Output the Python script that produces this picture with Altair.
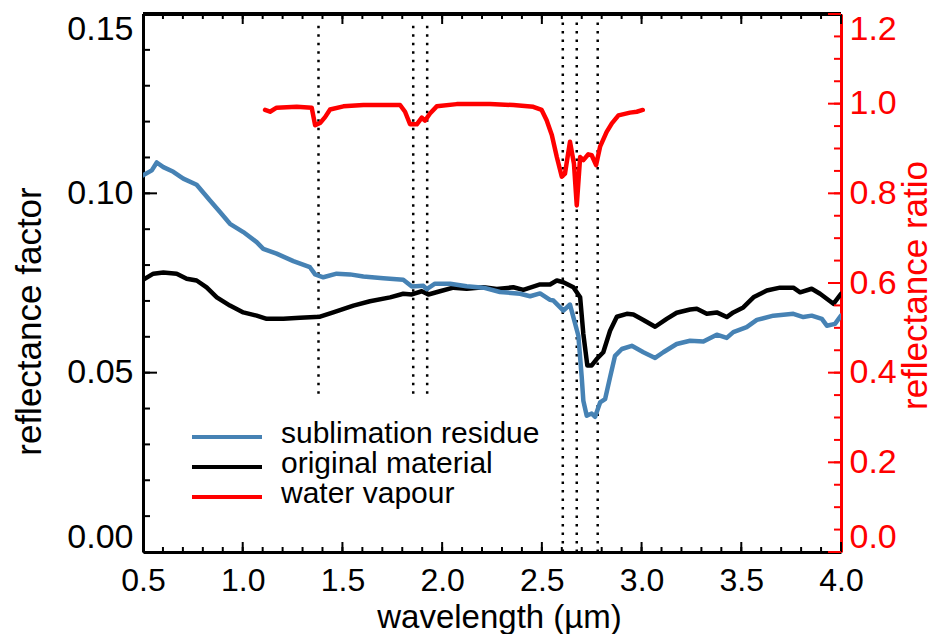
import altair as alt
import pandas as pd

# ---------------- data ----------------
# sublimation residue (left axis, reflectance factor)
res_wl = [0.500, 0.544, 0.569, 0.602, 0.652, 0.702, 0.769, 0.836, 0.886, 0.936,
          1.003, 1.070, 1.103, 1.170, 1.254, 1.337, 1.363, 1.404, 1.471, 1.538,
          1.605, 1.705, 1.805, 1.848, 1.906, 1.923, 1.964, 2.040, 2.123, 2.207,
          2.290, 2.391, 2.441, 2.491, 2.541, 2.558, 2.608, 2.641, 2.658, 2.683,
          2.700, 2.708, 2.725, 2.750, 2.767, 2.792, 2.817, 2.842, 2.867, 2.901,
          2.951, 3.009, 3.068, 3.109, 3.176, 3.243, 3.310, 3.377, 3.427, 3.460,
          3.527, 3.578, 3.661, 3.761, 3.811, 3.853, 3.904, 3.929, 3.970, 4.000]
res_rf = [0.1050, 0.1064, 0.1086, 0.1073, 0.1060, 0.1041, 0.1024, 0.0980, 0.0948, 0.0915,
          0.0892, 0.0864, 0.0845, 0.0832, 0.0811, 0.0794, 0.0774, 0.0766, 0.0776, 0.0774,
          0.0768, 0.0763, 0.0759, 0.0740, 0.0742, 0.0733, 0.0748, 0.0748, 0.0741, 0.0737,
          0.0725, 0.0720, 0.0713, 0.0721, 0.0703, 0.0701, 0.0673, 0.0690, 0.0655, 0.0603,
          0.0487, 0.0422, 0.0380, 0.0386, 0.0377, 0.0417, 0.0426, 0.0487, 0.0547, 0.0566,
          0.0575, 0.0557, 0.0541, 0.0557, 0.0580, 0.0589, 0.0587, 0.0606, 0.0597, 0.0613,
          0.0627, 0.0647, 0.0659, 0.0664, 0.0655, 0.0659, 0.0650, 0.0631, 0.0636, 0.0659]

# original material (left axis)
orig_wl = [0.500, 0.552, 0.602, 0.669, 0.719, 0.769, 0.819, 0.870, 0.936, 1.003,
           1.070, 1.120, 1.204, 1.287, 1.388, 1.454, 1.555, 1.638, 1.739, 1.805,
           1.848, 1.898, 1.931, 1.989, 2.056, 2.123, 2.207, 2.274, 2.357, 2.407,
           2.491, 2.541, 2.575, 2.608, 2.658, 2.692, 2.708, 2.728, 2.750, 2.775,
           2.808, 2.842, 2.876, 2.926, 2.959, 3.009, 3.068, 3.126, 3.176, 3.243,
           3.277, 3.327, 3.377, 3.427, 3.460, 3.510, 3.561, 3.628, 3.694, 3.761,
           3.795, 3.853, 3.895, 3.962, 4.000]
orig_rf = [0.0759, 0.0776, 0.0779, 0.0776, 0.0762, 0.0757, 0.0738, 0.0710, 0.0687, 0.0668,
           0.0659, 0.0650, 0.0650, 0.0653, 0.0656, 0.0668, 0.0687, 0.0699, 0.0710, 0.0720,
           0.0718, 0.0727, 0.0718, 0.0727, 0.0737, 0.0734, 0.0738, 0.0733, 0.0738, 0.0731,
           0.0746, 0.0746, 0.0757, 0.0752, 0.0738, 0.0710, 0.0608, 0.0520, 0.0520, 0.0538,
           0.0557, 0.0617, 0.0656, 0.0664, 0.0662, 0.0647, 0.0628, 0.0650, 0.0667, 0.0676,
           0.0678, 0.0664, 0.0668, 0.0655, 0.0668, 0.0682, 0.0710, 0.0729, 0.0737, 0.0737,
           0.0724, 0.0734, 0.0720, 0.0692, 0.0720]

# water vapour (right axis, reflectance ratio)
vap_wl = [1.112, 1.137, 1.170, 1.271, 1.346, 1.363, 1.388, 1.413, 1.438, 1.505,
          1.605, 1.789, 1.814, 1.839, 1.873, 1.898, 1.914, 1.939, 1.973, 2.073,
          2.240, 2.357, 2.457, 2.499, 2.524, 2.550, 2.575, 2.600, 2.616, 2.641,
          2.661, 2.675, 2.692, 2.708, 2.733, 2.750, 2.772, 2.792, 2.825, 2.851,
          2.884, 2.942, 2.976, 3.006]
vap_ratio = [0.986, 0.982, 0.991, 0.993, 0.991, 0.952, 0.957, 0.970, 0.987, 0.994,
             0.997, 0.997, 0.982, 0.954, 0.954, 0.969, 0.962, 0.978, 0.994, 0.999,
             0.999, 0.997, 0.993, 0.986, 0.963, 0.930, 0.881, 0.837, 0.844, 0.915,
             0.866, 0.773, 0.881, 0.874, 0.887, 0.885, 0.863, 0.904, 0.937, 0.956,
             0.974, 0.980, 0.982, 0.986]

# dotted band markers
band_wl = [1.38, 1.855, 1.925, 2.605, 2.675, 2.78]
band_lo = [0.0441, 0.0441, 0.0441, 0.0, 0.0, 0.0]
band_hi = [0.1483, 0.1483, 0.1483, 0.1483, 0.1483, 0.1483]

legend_labels = ["sublimation residue", "original material", "water vapour"]
legend_colors = ["#4682b4", "#000000", "#ff0000"]

# tick values
x_major = [0.5, 1.0, 1.5, 2.0, 2.5, 3.0, 3.5, 4.0]
x_minor = [round(0.5 + 0.1 * i, 1) for i in range(36)]
yl_major = [0.0, 0.05, 0.10, 0.15]
yl_minor = [round(0.01 * i, 2) for i in range(16)]
yr_major = [0.0, 0.2, 0.4, 0.6, 0.8, 1.0, 1.2]
yr_minor = [round(0.05 * i, 2) for i in range(25)]

# ---------------- chart ----------------
W, H = 698, 538
FONT = "Liberation Sans"
BLUE, BLACK, RED = legend_colors

xs = alt.Scale(domain=[0.5, 4.0], nice=False, zero=False)
yls = alt.Scale(domain=[0.0, 0.15], nice=False, zero=False)
yrs = alt.Scale(domain=[0.0, 1.2], nice=False, zero=False)

x_axis = alt.Axis(values=x_major, format=".1f", title="wavelength (µm)", grid=False,
                  ticks=False, tickSize=0, labelPadding=13, labelFontSize=32,
                  labelColor="black", labelFlush=False, labelOverlap=False,
                  domainColor="black", domainWidth=3,
                  titleFontSize=33, titleFontWeight="normal", titleColor="black",
                  titleBaseline="alphabetic", titleAlign="center", titleX=356, titleY=75)
yl_axis = alt.Axis(orient="left", values=yl_major, format=".2f", title="reflectance factor",
                   grid=False, ticks=False, tickSize=0, labelPadding=10, labelFontSize=34,
                   labelColor="black", labelFlush=True, labelFlushOffset=2, labelOverlap=False,
                   domainColor="black", domainWidth=3,
                   titleFontSize=35, titleFontWeight="normal", titleColor="black",
                   titleAngle=270, titleBaseline="alphabetic", titleAlign="center",
                   titleX=-103, titleY=307)
yr_axis = alt.Axis(orient="right", values=yr_major, format=".1f", title="reflectance ratio",
                   grid=False, ticks=False, tickSize=0, labelPadding=8, labelFontSize=34,
                   labelColor=RED, labelFlush=True, labelFlushOffset=2, labelOverlap=False,
                   domainColor=RED, domainWidth=3,
                   titleFontSize=35, titleFontWeight="normal", titleColor=RED,
                   titleAngle=270, titleBaseline="alphabetic", titleAlign="center",
                   titleX=85, titleY=271)


def X(f):
    return alt.X(f, type="quantitative", scale=xs, axis=x_axis)


def YL(f):
    return alt.Y(f, type="quantitative", scale=yls, axis=yl_axis)


def YR(f):
    return alt.Y(f, type="quantitative", scale=yrs, axis=yr_axis)


res_df = pd.DataFrame({"wl": res_wl, "rf": res_rf})
orig_df = pd.DataFrame({"wl": orig_wl, "rf": orig_rf})
vap_df = pd.DataFrame({"wl": vap_wl, "ratio": vap_ratio})
band_df = pd.DataFrame({"wl": band_wl, "lo": band_lo, "hi": band_hi})

line_kw = dict(strokeWidth=4.5, strokeJoin="round", strokeCap="round", clip=True)

dotted = alt.Chart(band_df).mark_rule(color="black", strokeWidth=2.5, strokeDash=[2.5, 6]).encode(
    x=X("wl"), y=YL("lo"), y2="hi")
black_line = alt.Chart(orig_df).mark_line(color=BLACK, **line_kw).encode(x=X("wl"), y=YL("rf"))
blue_line = alt.Chart(res_df).mark_line(color=BLUE, **line_kw).encode(x=X("wl"), y=YL("rf"))

xmin_df = pd.DataFrame({"v": x_minor})
xmaj_df = pd.DataFrame({"v": x_major})
ylmin_df = pd.DataFrame({"v": yl_minor})
ylmaj_df = pd.DataFrame({"v": yl_major})
yrmin_df = pd.DataFrame({"v": yr_minor})
yrmaj_df = pd.DataFrame({"v": yr_major})

tick_layers = []
for df, ln in [(xmin_df, 5), (xmaj_df, 10)]:
    tick_layers.append(alt.Chart(df).mark_rule(color="black", strokeWidth=2).encode(
        x=X("v"), y=alt.value(H), y2=alt.value(H - ln)))
    tick_layers.append(alt.Chart(df).mark_rule(color="black", strokeWidth=2).encode(
        x=X("v"), y=alt.value(0), y2=alt.value(ln)))
for df, ln in [(ylmin_df, 7), (ylmaj_df, 14)]:
    tick_layers.append(alt.Chart(df).mark_rule(color="black", strokeWidth=2).encode(
        y=YL("v"), x=alt.value(0), x2=alt.value(ln)))

top_border = alt.Chart(xmaj_df).mark_rule(color="black", strokeWidth=3).encode(
    x=alt.value(0), x2=alt.value(W), y=alt.value(0))

legend_layers = []
for i, (lab, col) in enumerate(zip(legend_labels, legend_colors)):
    ldf = pd.DataFrame({"label": [lab]})
    legend_layers.append(alt.Chart(ldf).mark_rule(color=col, strokeWidth=4).encode(
        x=alt.value(49), x2=alt.value(119), y=alt.value(423 + 30 * i)))
    legend_layers.append(alt.Chart(ldf).mark_text(
        align="left", baseline="alphabetic", fontSize=30, font=FONT, color="black").encode(
        x=alt.value(138), y=alt.value(429 + 30 * i), text="label:N"))

left = alt.layer(dotted, black_line, blue_line, *tick_layers, top_border, *legend_layers)

red_line = alt.Chart(vap_df).mark_line(color=RED, **line_kw).encode(x=X("wl"), y=YR("ratio"))
rticks = []
for df, ln in [(yrmin_df, 7), (yrmaj_df, 13)]:
    rticks.append(alt.Chart(df).mark_rule(color=RED, strokeWidth=2).encode(
        y=YR("v"), x=alt.value(W), x2=alt.value(W - ln)))
right = alt.layer(red_line, *rticks)

chart = alt.layer(left, right).resolve_scale(y="independent").properties(
    width=W, height=H,
    autosize=alt.AutoSizeParams(type="none"),
    padding={"left": 135, "top": 6, "right": 93, "bottom": 82},
).configure(font=FONT).configure_view(stroke=None).configure_axis(
    labelFont=FONT, titleFont=FONT)

chart.save("out.html", embed_options={"renderer": "svg", "actions": False})
